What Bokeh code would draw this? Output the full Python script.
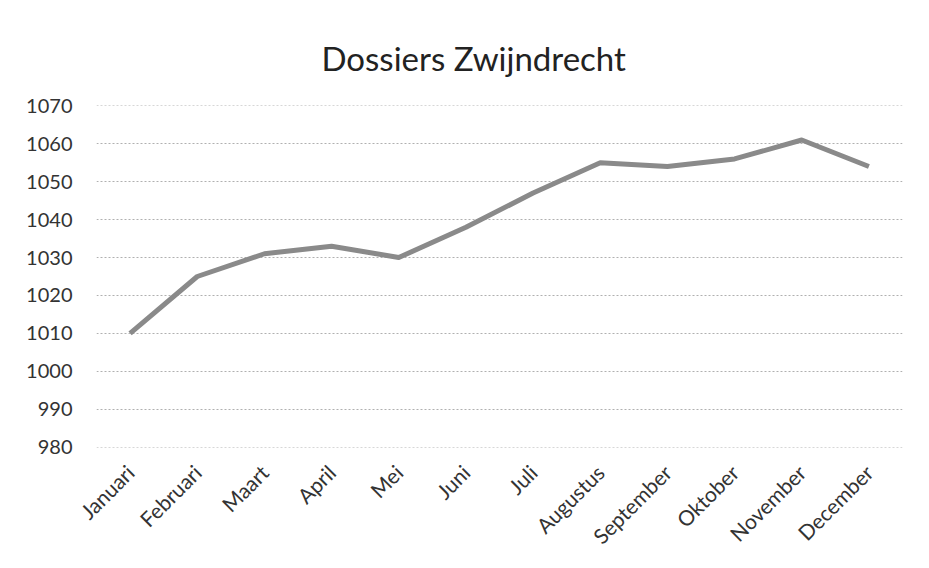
from math import pi
from bokeh.plotting import figure
from bokeh.models import Range1d, FixedTicker
from bokeh.embed import file_html
from bokeh.resources import INLINE

months = ["Januari", "Februari", "Maart", "April", "Mei", "Juni", "Juli",
          "Augustus", "September", "Oktober", "November", "December"]
dossiers = [1010, 1025, 1031, 1033, 1030, 1038, 1047, 1055, 1054, 1056, 1061, 1054]
y_ticks = [980, 990, 1000, 1010, 1020, 1030, 1040, 1050, 1060, 1070]

FONT = "Lato"
p = figure(x_range=months, y_range=Range1d(979.9, 1070.1), width=913, height=560,
           output_backend="svg", toolbar_location=None,
           min_border_left=96, min_border_right=11, min_border_top=105, min_border_bottom=112)

p.line(months, dossiers, line_color="#8a8a8a", line_width=5, line_join="round")

p.title.text = "Dossiers Zwijndrecht"
p.title.align = "left"
p.title.offset = 225
p.title.text_font = FONT
p.title.text_font_style = "normal"
p.title.text_font_size = "33px"
p.title.text_color = "#222222"
p.title.standoff = 56

p.yaxis.ticker = FixedTicker(ticks=y_ticks)
for ax in (p.xaxis, p.yaxis):
    ax.axis_line_color = None
    ax.major_tick_line_color = None
    ax.minor_tick_line_color = None
    ax.major_label_text_font = FONT
    ax.major_label_text_color = "#333333"
p.yaxis.major_label_text_font_size = "20px"
p.xaxis.major_label_text_font_size = "21px"
p.yaxis.major_label_standoff = 18
p.xaxis.major_label_orientation = pi / 4
p.xaxis.major_label_standoff = 15

p.xgrid.grid_line_color = None
p.ygrid.grid_line_color = "#b0b0b0"
p.ygrid.grid_line_dash = "2 2"
p.ygrid.grid_line_width = 1

p.outline_line_color = None
p.background_fill_color = "white"
p.border_fill_color = "white"

open("out.html", "w").write(file_html(p, INLINE))
